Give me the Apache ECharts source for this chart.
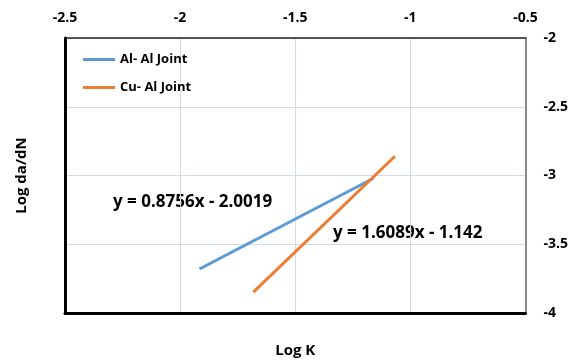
<!DOCTYPE html>
<html>
<head>
<meta charset="utf-8">
<script src="https://cdn.jsdelivr.net/npm/echarts@6/dist/echarts.min.js"></script>
<style>
  html, body { margin: 0; padding: 0; background: #fff; }
  #main { width: 571px; height: 363px; }
</style>
</head>
<body>
<div id="main"></div>
<script>
// data (log K, log da/dN)
var seriesNames = ['Al- Al Joint', 'Cu- Al Joint'];
var alX = [-1.916, -1.16];
var alY = [-3.68, -3.02];
var cuX = [-1.682, -1.067];
var cuY = [-3.848, -2.86];
var eqTexts = ['y = 0.8756x - 2.0019', 'y = 1.6089x - 1.142'];

var font = 'Open Sans';

function pairs(xs, ys) {
  var out = [];
  for (var i = 0; i < xs.length; i++) out.push([xs[i], ys[i]]);
  return out;
}

var option = {
  animation: false,
  backgroundColor: '#fff',
  grid: { left: 65, right: 44, top: 38, bottom: 49 },
  legend: {
    orient: 'vertical',
    left: 78, top: 48,
    itemGap: 15,
    icon: 'rect', itemWidth: 32, itemHeight: 3,
    textStyle: { fontFamily: font, fontWeight: 'bold', fontSize: 13, color: '#000' },
    data: seriesNames
  },
  xAxis: [{
    type: 'value', position: 'top', min: -2.5, max: -0.5, interval: 0.5,
    axisLine: { show: true, onZero: false, lineStyle: { color: '#222', width: 1.5 } },
    axisTick: { show: false },
    axisLabel: { margin: 13, fontFamily: font, fontWeight: 'bold', fontSize: 14, color: '#000' },
    splitLine: { show: true, lineStyle: { color: '#d3dbe8', width: 1 } }
  }, {
    type: 'value', position: 'bottom', min: -2.5, max: -0.5, interval: 0.5,
    name: 'Log K', nameLocation: 'middle', nameGap: 30,
    nameTextStyle: { fontFamily: font, fontWeight: 'bold', fontSize: 15, color: '#000' },
    axisLine: { show: true, onZero: false, lineStyle: { color: '#000', width: 3 } },
    axisTick: { show: false }, axisLabel: { show: false }, splitLine: { show: false }
  }],
  yAxis: [{
    type: 'value', position: 'right', min: -4, max: -2, interval: 0.5,
    axisLine: { show: true, onZero: false, lineStyle: { color: '#8a8a8a', width: 2 } },
    axisTick: { show: false },
    axisLabel: { margin: 18, fontFamily: font, fontWeight: 'bold', fontSize: 14, color: '#000' },
    splitLine: { show: true, lineStyle: { color: '#d3dbe8', width: 1 } }
  }, {
    type: 'value', position: 'left', min: -4, max: -2, interval: 0.5,
    name: 'Log da/dN', nameLocation: 'middle', nameGap: 36, nameRotate: 90,
    nameTextStyle: { fontFamily: font, fontWeight: 'bold', fontSize: 15, color: '#000' },
    axisLine: { show: true, onZero: false, lineStyle: { color: '#000', width: 3 } },
    axisTick: { show: false }, axisLabel: { show: false }, splitLine: { show: false }
  }],
  series: [{
    name: seriesNames[0], type: 'line', data: pairs(alX, alY),
    symbol: 'none', color: '#5b9bd5', lineStyle: { width: 3, color: '#5b9bd5' }
  }, {
    name: seriesNames[1], type: 'line', data: pairs(cuX, cuY),
    symbol: 'none', color: '#ed7d31', lineStyle: { width: 3, color: '#ed7d31' }
  }],
  graphic: [{
    type: 'text', left: 113, top: 194,
    style: { text: eqTexts[0], fontFamily: font, fontWeight: 'bold', fontSize: 17, fill: '#000' }
  }, {
    type: 'text', left: 333, top: 225,
    style: { text: eqTexts[1], fontFamily: font, fontWeight: 'bold', fontSize: 17, fill: '#000' }
  }]
};

var chart = echarts.init(document.getElementById('main'));
chart.setOption(option);
</script>
</body>
</html>
